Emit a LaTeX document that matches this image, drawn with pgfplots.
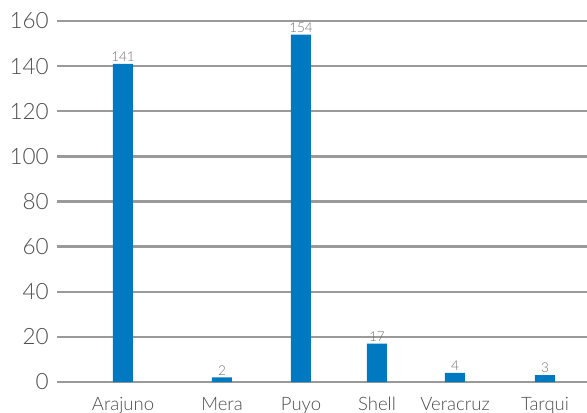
\documentclass[border=0pt]{standalone}
\usepackage{fontspec}
\setmainfont{Lato}[UprightFont=* Light]
\usepackage{pgfplots}
\pgfplotsset{compat=1.18}
\definecolor{barblue}{HTML}{0079C1}
\definecolor{gridgray}{HTML}{9A9A9A}
\definecolor{txtgray}{HTML}{4D4D4D}
\begin{document}
\begin{tikzpicture}
\begin{axis}[
    at={(0,0)}, anchor=origin,
    scale only axis,
    width=530bp, height=361bp,
    xmin=57, xmax=587,
    ymin=0, ymax=160,
    ytick={0,20,...,160},
    xtick={123,222,301,377,455,545},
    xticklabels={Arajuno,Mera,Puyo,Shell,Veracruz,Tarqui},
    axis line style={draw=none},
    tick style={draw=none},
    ymajorgrids,
    grid style={gridgray, line width=2.4bp},
    /pgf/number format/assume math mode=true,
    yticklabel style={font=\fontsize{22.5bp}{24bp}\selectfont, text=txtgray, inner sep=0pt, xshift=-8bp},
    xticklabel style={font=\fontsize{18.5bp}{20bp}\selectfont, text=txtgray, inner sep=0pt, yshift=-11bp},
    ybar, bar width=20bp,
    nodes near coords,
    every node near coord/.append style={font=\fontsize{13.5bp}{14bp}\selectfont, text=txtgray!80, inner sep=2pt},
]
\addplot[fill=barblue, draw=none, bar shift=0pt] coordinates {
    (123,141) (222,2) (301,154) (377,17) (455,4) (545,3)
};
\end{axis}
\pgfresetboundingbox
\path[use as bounding box] (-57bp,-31bp) rectangle (530bp,382bp);
\end{tikzpicture}
\end{document}
